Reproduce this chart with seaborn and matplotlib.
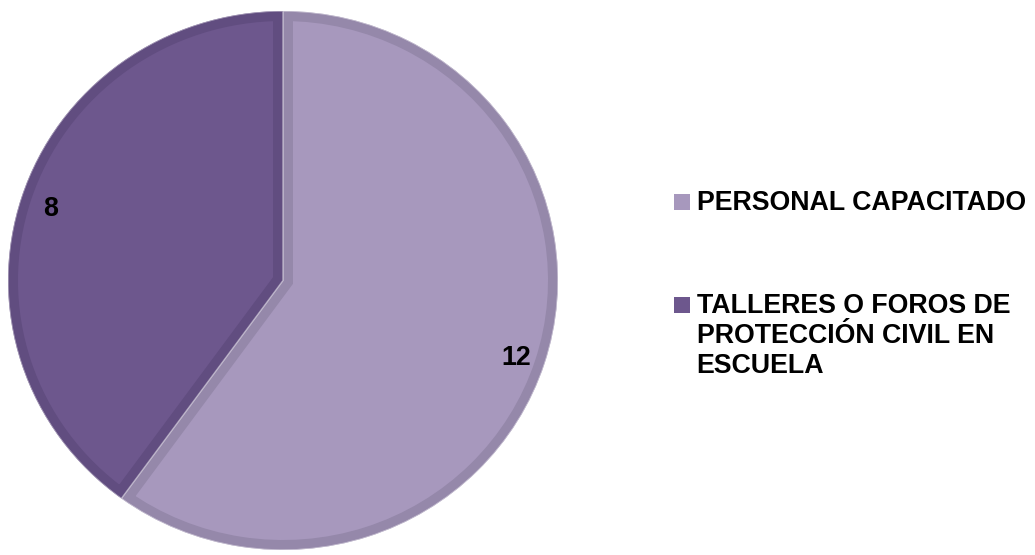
import matplotlib
matplotlib.use("Agg")
import matplotlib.pyplot as plt
from matplotlib.patches import Patch, Rectangle
from matplotlib.legend_handler import HandlerPatch
import seaborn as sns

# datos del gráfico
categories = ["PERSONAL CAPACITADO",
              "TALLERES O FOROS DE\nPROTECCIÓN CIVIL EN\nESCUELA"]
values = [12, 8]
fill_colors = ["#A798BD", "#6D578D"]
rim_colors = ["#9588AA", "#614D80"]

sns.set_theme(style="white")
plt.rcParams['font.family'] = ['Liberation Sans', 'DejaVu Sans']
plt.rcParams['text.color'] = 'black'

fig = plt.figure(figsize=(10.35, 5.55), dpi=100)
ax = fig.add_axes([8 / 1035, 5 / 555, 550 / 1035, 539 / 555])

# pastel principal con borde interior más oscuro
wedges, texts, autotexts = ax.pie(
    values, colors=fill_colors, startangle=90, counterclock=False,
    autopct=lambda p: f"{p * sum(values) / 100:.0f}", pctdistance=0.89,
    textprops=dict(fontsize=19.3, fontweight='bold', color='black'))
for w, rim in zip(wedges, rim_colors):
    w.set_edgecolor(rim)
    w.set_linewidth(14.4)
    w.set_clip_on(True)
    w.set_clip_path(w)
for t in autotexts:
    t.set_va('center_baseline')

# línea clara entre sectores
sep, _ = ax.pie(values, startangle=90, counterclock=False,
                wedgeprops=dict(fill=False, edgecolor=(1, 1, 1, 0.5),
                                linewidth=1.0))
for w in sep:
    w.set_clip_on(True)
    w.set_clip_path(w)

ax.set_aspect('auto')
ax.set_xlim(-1, 1)
ax.set_ylim(-1, 1)
ax.axis('off')


def square_patch(legend, orig_handle, xdescent, ydescent, width, height, fontsize):
    # cuadrado alineado con la línea base de la primera línea
    return Rectangle((-xdescent, -ydescent), width, width)


# leyenda
handles = [Patch(facecolor=c, edgecolor='none') for c in fill_colors]
leg = fig.legend(handles, categories, loc='upper left',
                 bbox_to_anchor=(674 / 1035, 1 - 190 / 555),
                 frameon=False, prop=dict(size=19.3, weight='bold'),
                 labelcolor='black',
                 handlelength=0.6, handleheight=0.78, handletextpad=0.24,
                 labelspacing=2.88, borderpad=0, borderaxespad=0,
                 handler_map={Patch: HandlerPatch(patch_func=square_patch)})
for row in leg._legend_handle_box.get_children()[0].get_children():
    row.align = 'top'

fig.savefig("out.png", dpi=100)
